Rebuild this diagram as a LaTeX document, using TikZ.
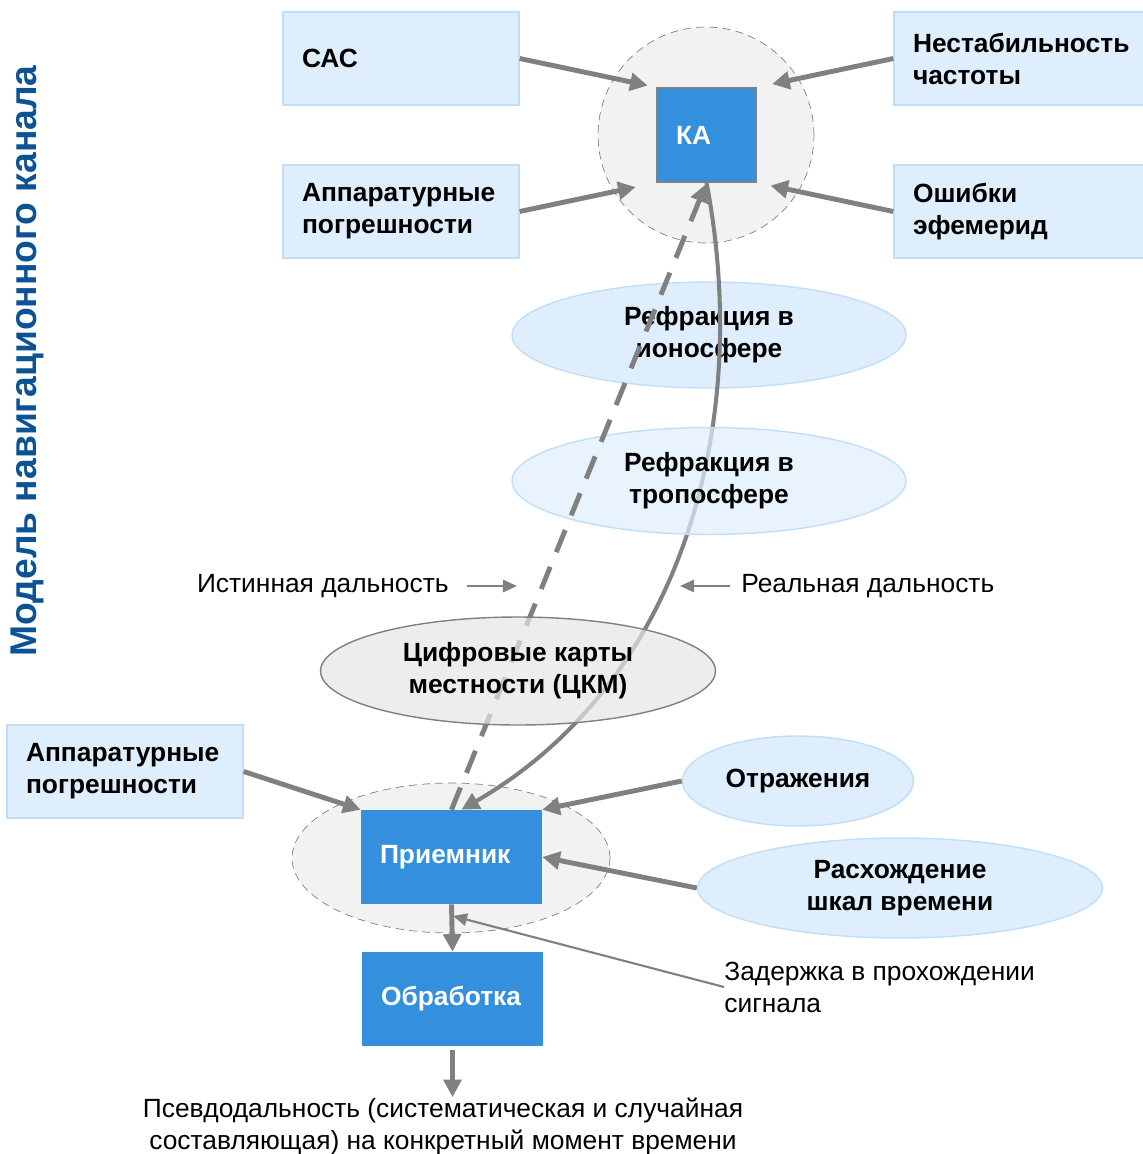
\documentclass[tikz,border=0pt]{standalone}
\usepackage{fontspec}
\setmainfont{Liberation Sans}
\usepackage{tikz}
\usetikzlibrary{arrows.meta,shapes.geometric}
\definecolor{factorblue}{RGB}{222,238,252}
\definecolor{factorline}{RGB}{192,222,247}
\definecolor{unitblue}{RGB}{52,144,220}
\definecolor{arrowgray}{RGB}{128,128,128}
\definecolor{zonegray}{RGB}{242,242,242}
\definecolor{mapgray}{RGB}{230,230,230}
\definecolor{titleblue}{RGB}{11,83,148}
\newcommand{\diagfont}{\fontsize{15}{18.2}\selectfont}
\tikzset{
  factor-box/.style={draw=factorline, thick, fill=factorblue, minimum height=1.86cm,
    inner xsep=0.38cm, inner ysep=0pt, align=left, font=\diagfont\bfseries},
  unit-box/.style={fill=unitblue, text=white, minimum height=1.88cm,
    inner xsep=0.38cm, inner ysep=0pt, align=left, font=\diagfont\bfseries},
  zone/.style={draw=arrowgray, thin, dash pattern=on 4.5pt off 3pt, fill=zonegray},
  medium-ellipse/.style={ellipse, draw=factorline, thick, fill=factorblue,
    align=center, inner sep=0pt, font=\diagfont\bfseries},
  map-ellipse/.style={ellipse, draw=arrowgray, thick, fill=mapgray, fill opacity=0.7,
    text opacity=1, draw opacity=1, align=center, inner sep=0pt, font=\diagfont\bfseries},
  plain-text/.style={inner sep=0pt, font=\diagfont},
  flow-arrow/.style={-{Triangle[length=10pt,width=10pt]}, line width=2.8pt, draw=arrowgray},
  range-arrow/.style={-{Triangle[length=10pt,width=10pt]}, line width=2.8pt, draw=arrowgray,
    dash pattern=on 13.6pt off 9pt},
  path-arrow/.style={-{Triangle[length=10pt,width=10pt]}, line width=2.3pt, draw=arrowgray},
  pointer-arrow/.style={-{Triangle[length=8pt,width=7pt]}, line width=1.2pt, draw=arrowgray}
}
\begin{document}
\begin{tikzpicture}[x=0.02cm, y=-0.02cm]
\useasboundingbox (0,0) rectangle (1143,1154);
% title
\node[rotate=90, font=\fontsize{21.2}{24}\selectfont\bfseries, text=titleblue] (title) at (27,361) {Модель навигационного канала};
% zones
\node[zone, circle, minimum size=4.32cm] (kazone) at (706,135) {};
\node[zone, ellipse, minimum width=6.36cm, minimum height=3cm] (przone) at (451,858) {};
% satellite and its error sources
\node[factor-box, text width=3.96cm] (sac) at (401,58.5) {САС};
\node[factor-box, text width=3.96cm] (hw1) at (401,211.5) {Аппаратурные\\погрешности};
\node[factor-box, text width=4.44cm] (freq) at (1024,58.5) {Нестабильность\\частоты};
\node[factor-box, text width=4.44cm] (eph) at (1024,211.5) {Ошибки\\эфемерид};
\node[unit-box, draw=arrowgray, thick, text width=1.22cm] (ka) at (706.5,135) {КА};
\draw[flow-arrow, shorten >=5pt] (sac.east) -- (ka.north west);
\draw[flow-arrow, shorten >=9pt] (freq.west) -- (ka.north east);
\draw[flow-arrow, shorten >=12pt] (hw1.east) -- (ka.south west);
\draw[flow-arrow, shorten >=8pt] (eph.west) -- (ka.south east);
% receiver side
\node[factor-box, text width=3.96cm] (hw2) at (125,771.5) {Аппаратурные\\погрешности};
\node[unit-box, text width=2.86cm] (pr) at (451.5,857) {Приемник};
\node[unit-box, text width=2.86cm] (obr) at (452.5,999) {Обработка};
\node[medium-ellipse, minimum width=4.62cm, minimum height=1.8cm] (refl) at (798,781) {Отражения};
\node[medium-ellipse, minimum width=8.1cm, minimum height=2cm] (shift) at (900,888) {Расхождение\\шкал времени};
\draw[flow-arrow] (hw2.east) -- (pr.north west);
\draw[flow-arrow] (refl.west) -- (pr.north east);
\draw[flow-arrow] (shift.west) -- (pr.east);
\draw[flow-arrow] (pr.south) -- (obr.north);
% propagation
\node[medium-ellipse, minimum width=7.88cm, minimum height=2.12cm] (iono) at (709,335) {Рефракция в\\ионосфере};
\draw[path-arrow] (ka.south) .. controls (752,420) and (685,680) .. (pr.78);
\node[medium-ellipse, fill opacity=0.7, text opacity=1, draw opacity=1,
  minimum width=7.88cm, minimum height=2.14cm] (tropo) at (709,481) {Рефракция в\\тропосфере};
\draw[range-arrow, shorten >=1pt] (pr.north) -- (ka.south);
\node[map-ellipse, minimum width=7.9cm, minimum height=2.16cm] (ckm) at (518,671) {Цифровые карты\\местности (ЦКМ)};
% range labels
\node[plain-text, anchor=east] (ist) at (449,586) {Истинная дальность};
\coordinate (istend) at (517,586);
\draw[pointer-arrow, shorten <=10pt] (ist.east) -- (istend);
\node[plain-text, anchor=west] (real) at (741,586) {Реальная дальность};
\coordinate (realend) at (680,586);
\draw[pointer-arrow, shorten <=6pt] (real.west) -- (realend);
% delay and output
\node[plain-text, anchor=west, align=left] (zad) at (724,987) {Задержка в прохождении\\сигнала};
\coordinate (sig) at (453,916);
\draw[pointer-arrow] (zad.west) -- (sig);
\node[plain-text, align=center] (pseudo) at (443,1126) {Псевдодальность (систематическая и случайная\\составляющая) на конкретный момент времени};
\draw[flow-arrow, shorten <=2pt] (obr.south) -- (obr.south |- pseudo.north);
\end{tikzpicture}
\end{document}
